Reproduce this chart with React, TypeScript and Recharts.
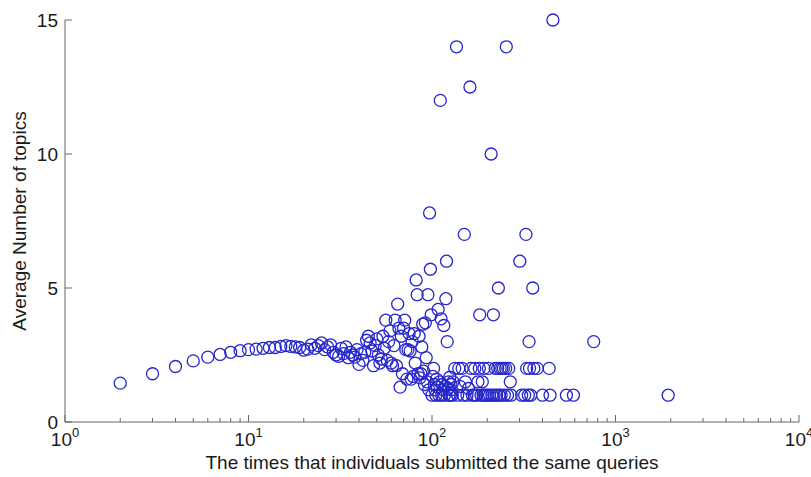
import { ScatterChart, Scatter, XAxis, YAxis, Label } from "recharts";

// times a query was submitted -> average number of topics
const timesSubmitted = [
  2, 3, 4, 5, 6, 7, 8, 9, 10, 11, 12, 13, 14, 15, 16, 17, 18, 19, 20,
  21, 22, 23, 24, 25, 26, 27, 28, 29, 30, 31, 32, 33, 34, 35, 36, 37, 38, 39, 40,
  41, 42, 43, 44, 45, 46, 47, 48, 49, 50, 51, 52, 53, 54, 55, 56, 57, 58, 59, 60,
  61, 62, 63, 64, 65, 66, 67, 68, 69, 70, 71, 72, 73, 74, 75, 76, 77, 78, 79, 80,
  81, 82, 83, 84, 85, 86, 87, 88, 89, 90, 91, 92, 93, 94, 95, 96, 97, 98, 99, 100,
  101, 102, 103, 104, 105, 106, 107, 108, 109, 110, 111, 112, 113, 114, 115, 116, 117, 118, 119, 120,
  121, 122, 123, 124, 125, 126, 127, 128, 129, 130,
  133, 136, 138, 140, 142, 146, 148, 150, 152, 155, 158, 161, 163, 166, 170, 171, 175, 178, 181, 182,
  185, 188, 190, 192, 195, 200, 203, 206, 210, 212, 216, 218, 221, 225, 228, 230, 232, 235, 238, 240,
  245, 248, 252, 254, 258, 262, 267, 270, 301, 308, 320, 325, 328, 335, 338, 340, 345, 354, 359, 375,
  400, 435, 440, 456, 540, 590, 761, 1937,
];

const avgTopics = [
  1.45, 1.8, 2.07, 2.28, 2.42, 2.52, 2.6, 2.66, 2.7, 2.72, 2.75, 2.78, 2.78, 2.82, 2.85, 2.82, 2.8, 2.78, 2.68,
  2.72, 2.88, 2.75, 2.85, 2.95, 2.7, 2.8, 2.88, 2.6, 2.5, 2.45, 2.75, 2.55, 2.8, 2.4, 2.6, 2.5, 2.42, 2.7, 2.15,
  2.55, 2.3, 2.6, 3.05, 3.2, 2.95, 2.65, 2.1, 2.85, 3.1, 2.5, 2.2, 2.35, 3.2, 2.75, 3.8, 2.3, 3.0, 3.4, 2.2,
  2.1, 2.85, 3.8, 2.1, 4.4, 3.5, 1.3, 3.2, 1.8, 3.5, 3.8, 2.7, 1.6, 2.7, 3.3, 2.65, 1.6, 3.0, 1.7, 3.3,
  2.2, 5.3, 4.75, 1.8, 3.2, 1.65, 1.8, 2.8, 3.65, 1.9, 1.4, 3.7, 2.4, 1.5, 4.75, 1.2, 7.8, 5.7, 4.0, 1.0,
  1.7, 2.0, 1.4, 1.2, 1.0, 1.6, 1.3, 4.2, 1.0, 1.5, 12, 3.85, 1.0, 1.4, 1.2, 3.6, 1.0, 1.33, 4.6, 6.0,
  3.0, 1.25, 1.5, 1.0, 1.67, 1.0, 1.4, 1.2, 1.0, 1.5,
  2, 14, 1, 2, 1.33, 2, 1, 7, 1.5, 1, 1.25, 12.5, 2, 1, 1, 2, 1, 1.5, 2, 4,
  1, 1.5, 1, 2, 1, 1, 2, 1, 10, 1, 4, 1, 2, 1, 2, 5, 1, 2, 1, 2,
  2, 1, 2, 14, 1, 2, 1.5, 1, 6, 1, 1, 7, 2, 1, 3, 2, 1, 5, 2, 2,
  1, 2, 1, 15, 1, 1, 3, 1,
];

const xMajorTicks = [1, 10, 100, 1000, 10000];
const xMinorTicks = [
  2, 3, 4, 5, 6, 7, 8, 9,
  20, 30, 40, 50, 60, 70, 80, 90,
  200, 300, 400, 500, 600, 700, 800, 900,
  2000, 3000, 4000, 5000, 6000, 7000, 8000, 9000,
];
const yTicks = [0, 5, 10, 15];

const xTitle = "The times that individuals submitted the same queries";
const yTitle = "Average Number of topics";

const data = timesSubmitted.map((x, i) => ({ x, y: avgTopics[i] }));
const allXTicks = [...xMajorTicks, ...xMinorTicks].sort((a, b) => a - b);

const axisColor = "#666";
const textColor = "#1a1a1a";
const font = "'Liberation Sans', Arial, sans-serif";

function XTick(props: any) {
  const { x, y, payload } = props;
  const v = payload.value;
  const major = xMajorTicks.includes(v);
  return (
    <g>
      <line x1={x} x2={x} y1={y} y2={y - (major ? 7 : 4)} stroke={axisColor} strokeWidth={1} />
      {major && (
        <text x={x} y={y + 24} textAnchor="middle" fontSize={19} fill={textColor} fontFamily={font}>
          10
          <tspan dy={-9} fontSize={13}>
            {Math.round(Math.log10(v))}
          </tspan>
        </text>
      )}
    </g>
  );
}

function YTick(props: any) {
  const { x, y, payload } = props;
  return (
    <g>
      <line x1={x} x2={x + 7} y1={y} y2={y} stroke={axisColor} strokeWidth={1} />
      <text x={x - 7} y={y + 7} textAnchor="end" fontSize={19} fill={textColor} fontFamily={font}>
        {payload.value}
      </text>
    </g>
  );
}

const Ring = (props: any) => (
  <circle cx={props.cx} cy={props.cy} r={6} fill="none" stroke="#2626cc" strokeWidth={1.3} />
);

export default function App() {
  return (
    <div style={{ position: "absolute", left: 0, top: 0, background: "#fff" }}>
      <ScatterChart width={811} height={477} margin={{ top: 20, right: 12, bottom: 0, left: 0 }}>
        <XAxis
          dataKey="x"
          type="number"
          scale="log"
          domain={[1, 10000]}
          ticks={allXTicks}
          interval={0}
          allowDataOverflow
          height={55}
          tickSize={0}
          tickMargin={0}
          tickLine={false}
          axisLine={{ stroke: axisColor }}
          tick={<XTick />}
        >
          <Label
            content={(p: any) => {
              const vb = p.viewBox;
              return (
                <text
                  x={vb.x + vb.width / 2}
                  y={vb.y + 47}
                  textAnchor="middle"
                  fontSize={19}
                  fill={textColor}
                  fontFamily={font}
                >
                  {xTitle}
                </text>
              );
            }}
          />
        </XAxis>
        <YAxis
          dataKey="y"
          type="number"
          domain={[0, 15]}
          ticks={yTicks}
          interval={0}
          width={65}
          tickSize={0}
          tickMargin={0}
          tickLine={false}
          axisLine={{ stroke: axisColor }}
          tick={<YTick />}
        >
          <Label
            content={(p: any) => {
              const vb = p.viewBox;
              const cy = vb.y + vb.height / 2;
              return (
                <text
                  x={26}
                  y={cy}
                  transform={`rotate(-90 26 ${cy})`}
                  textAnchor="middle"
                  fontSize={19}
                  fill={textColor}
                  fontFamily={font}
                >
                  {yTitle}
                </text>
              );
            }}
          />
        </YAxis>
        <Scatter data={data} shape={<Ring />} isAnimationActive={false} />
      </ScatterChart>
    </div>
  );
}
